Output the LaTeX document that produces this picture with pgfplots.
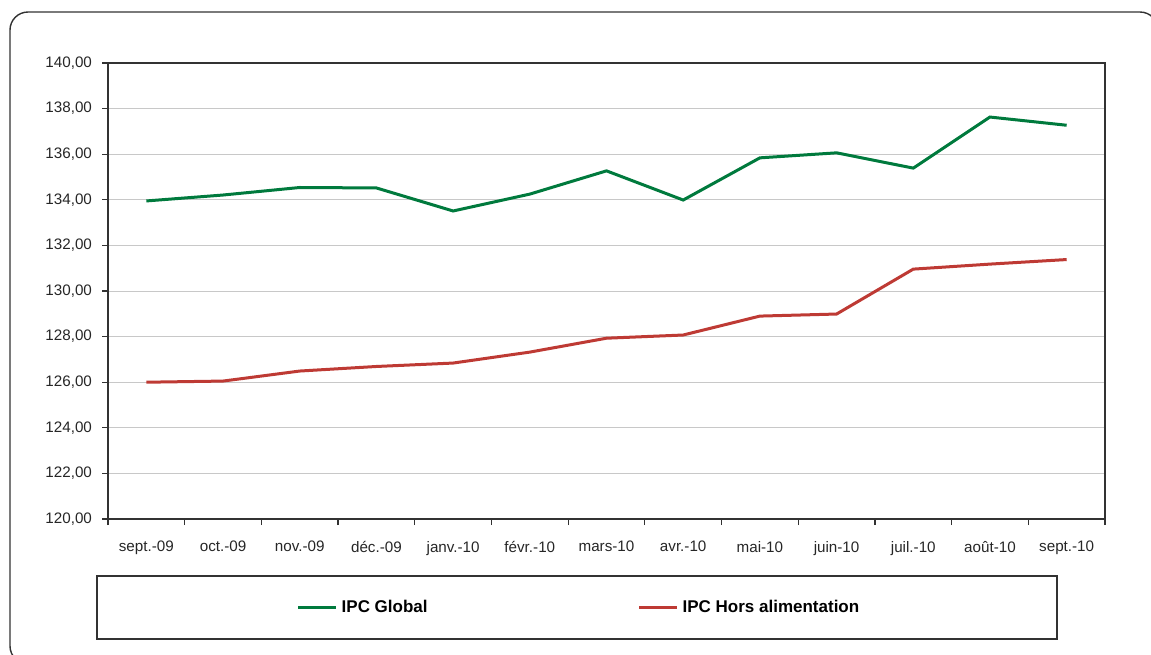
\documentclass[border=0pt]{standalone}
\usepackage{pgfplots}
\pgfplotsset{compat=1.18}
\usepackage{fontspec}
\setmainfont{Liberation Sans}
\definecolor{ipcgreen}{RGB}{0,122,61}
\definecolor{ipcred}{RGB}{190,58,52}
\definecolor{axgray}{RGB}{50,50,50}
\definecolor{gridgray}{RGB}{200,200,200}
\begin{document}
\begin{tikzpicture}
\useasboundingbox (0,0) rectangle (575.5pt,-327pt);
\draw[axgray, line width=0.7pt, rounded corners=9pt] (5pt,-6pt) rectangle (579pt,-332pt);
\draw[axgray, line width=0.7pt] (48.5pt,-288pt) rectangle (528.5pt,-319.5pt);
\begin{axis}[
  at={(54pt,-259.5pt)}, anchor=south west,
  scale only axis, width=498.5pt, height=228pt,
  xmin=-0.5, xmax=12.5, ymin=120, ymax=140,
  xtick={0,...,12},
  xticklabels={sept.-09,oct.-09,nov.-09,déc.-09,janv.-10,févr.-10,mars-10,avr.-10,mai-10,juin-10,juil.-10,août-10,sept.-10},
  major x tick style={draw=none},
  minor xtick={-0.5,0.5,...,12.5},
  ytick={120,122,...,140},
  tick pos=left,
  tick align=outside,
  major tick length=3pt, minor tick length=3pt,
  tick style={axgray, line width=0.6pt},
  axis line style={axgray, line width=0.75pt},
  ymajorgrids, major grid style={gridgray, line width=0.5pt},
  ticklabel style={font=\fontsize{7.6}{9}\selectfont, text=black!85},
  xticklabel style={yshift=-4.5pt},
  yticklabel style={xshift=-1.5pt, /pgf/number format/.cd, fixed, fixed zerofill, precision=2, use comma, assume math mode=true},
  legend style={at={(0.4734,-0.1941)}, anchor=center, draw=none, fill=none,
    font=\fontsize{8.5}{10}\selectfont\bfseries, legend columns=2,
    /tikz/every even column/.append style={column sep=103pt}},
  legend image code/.code={\draw[#1, line width=1.5pt] (0pt,0pt) -- (19pt,0pt);},
]
\addplot[ipcgreen, line width=1.5pt] coordinates {
(0,133.95) (1,134.21) (2,134.54) (3,134.52) (4,133.51) (5,134.25) (6,135.27) (7,133.99) (8,135.84) (9,136.06) (10,135.39) (11,137.63) (12,137.27)};
\addlegendentry{IPC Global}
\addplot[ipcred, line width=1.5pt] coordinates {
(0,126.0) (1,126.05) (2,126.49) (3,126.69) (4,126.84) (5,127.32) (6,127.93) (7,128.07) (8,128.90) (9,128.99) (10,130.96) (11,131.18) (12,131.38)};
\addlegendentry{IPC Hors alimentation}
\end{axis}
\end{tikzpicture}
\end{document}
